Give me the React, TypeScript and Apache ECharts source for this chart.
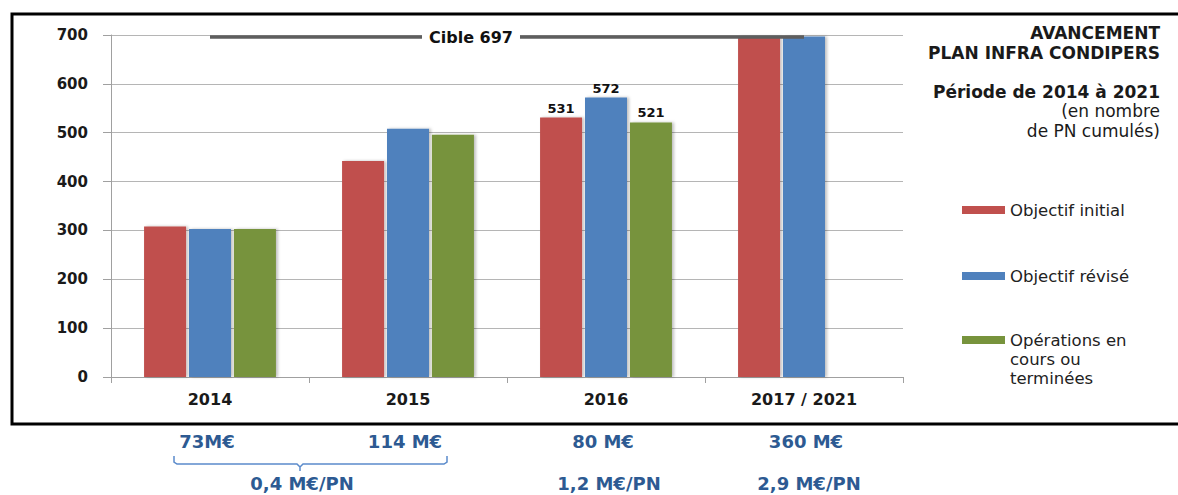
import React, { useEffect, useRef } from "react";
import * as echarts from "echarts";

const categories = ["2014", "2015", "2016", "2017 / 2021"];
const objectifInitial = [308, 442, 531, 697];
const objectifRevise = [303, 508, 572, 697];
const operations: (number | null)[] = [303, 496, 521, null];
const labelledIndex = 2;
const cible = 697;
const yTicks = { min: 0, max: 700, interval: 100 };
const seriesNames = ["Objectif initial", "Objectif révisé", "Opérations en cours ou terminées"];
const colors = ["#C0504D", "#4F81BD", "#77933C"];
const costLabels = ["73M€", "114 M€", "80 M€", "360 M€"];
const perPnLabels = ["0,4 M€/PN", "1,2 M€/PN", "2,9 M€/PN"];
const titleLines = ["AVANCEMENT", "PLAN INFRA CONDIPERS", "Période de 2014 à 2021", "(en nombre", "de PN cumulés)"];

const AXIS_FONT = "'DejaVu Sans', Verdana, sans-serif";
const BLUE_TXT = "#2D5A92";

function toData(vals: (number | null)[]) {
  return vals.map((v, i) =>
    i === labelledIndex
      ? {
          value: v,
          label: {
            show: true,
            position: "top",
            distance: 3,
            fontFamily: AXIS_FONT,
            fontWeight: "bold",
            fontSize: 13,
            color: "#111",
          },
        }
      : v
  );
}

export default function App() {
  const ref = useRef<HTMLDivElement>(null);
  useEffect(() => {
    document.body.style.margin = "0";
    const chart = echarts.init(ref.current!, undefined, { renderer: "svg" });
    const barCommon = {
      type: "bar",
      barWidth: 42,
      barGap: "7%",
      itemStyle: {
        shadowColor: "rgba(0,0,0,0.25)",
        shadowBlur: 3,
        shadowOffsetX: 2,
      },
    };
    const legendCommon = {
      orient: "vertical",
      left: 962,
      padding: 0,
      itemWidth: 43,
      itemHeight: 8,
      icon: "rect",
      selectedMode: false,
      textStyle: { fontFamily: AXIS_FONT, fontSize: 16.5, color: "#222", lineHeight: 19 },
    };
    const titleRich = {
      t: { fontFamily: AXIS_FONT, fontWeight: "bold", fontSize: 17, lineHeight: 19.5, align: "right", fill: "#1a1a1a" },
      n: { fontFamily: AXIS_FONT, fontWeight: "normal", fontSize: 17, lineHeight: 19.5, align: "right", fill: "#1a1a1a" },
      p: { fontFamily: AXIS_FONT, fontWeight: "bold", fontSize: 17, lineHeight: 19.5, align: "right", fill: "#1a1a1a" },
      g: { fontSize: 10, lineHeight: 19.5 },
    };
    const titleText = [
      `{t|${titleLines[0]}}`,
      `{t|${titleLines[1]}}`,
      `{g| }`,
      `{p|${titleLines[2]}}`,
      `{n|${titleLines[3]}}`,
      `{n|${titleLines[4]}}`,
    ].join("\n");
    chart.setOption({
      animation: false,
      backgroundColor: "#fff",
      grid: { left: 111, right: 275, top: 35, bottom: 118 },
      legend: [
        { ...legendCommon, top: 200.5, data: [seriesNames[0]] },
        { ...legendCommon, top: 266.5, data: [seriesNames[1]] },
        {
          ...legendCommon,
          top: 292.5,
          data: [seriesNames[2]],
          formatter: () => "\n\nOpérations en\ncours ou\nterminées",
        },
      ],
      xAxis: {
        type: "category",
        data: categories,
        axisLine: { lineStyle: { color: "#A0A0A0", width: 1 } },
        axisTick: { show: true, length: 6, lineStyle: { color: "#A0A0A0" } },
        axisLabel: {
          fontFamily: AXIS_FONT,
          fontWeight: "bold",
          fontSize: 16,
          color: "#1a1a1a",
          margin: 14,
        },
      },
      yAxis: {
        type: "value",
        ...yTicks,
        axisLine: { show: true, lineStyle: { color: "#A0A0A0", width: 1 } },
        axisTick: { show: true, length: 8, lineStyle: { color: "#A0A0A0" } },
        splitLine: { lineStyle: { color: "#B5B5B5", width: 1 } },
        axisLabel: {
          fontFamily: AXIS_FONT,
          fontWeight: "bold",
          fontSize: 15,
          color: "#1a1a1a",
          margin: 23,
        },
      },
      series: [
        {
          ...barCommon,
          name: seriesNames[0],
          data: toData(objectifInitial),
          itemStyle: { ...barCommon.itemStyle, color: colors[0] },
        },
        {
          ...barCommon,
          name: seriesNames[1],
          data: toData(objectifRevise),
          itemStyle: { ...barCommon.itemStyle, color: colors[1] },
          markLine: {
            silent: true,
            z: 10,
            symbol: ["none", "none"],
            label: { show: false },
            lineStyle: { color: "#5E5E5E", width: 3.5, type: "solid" },
            data: [[{ coord: [0, cible] }, { coord: [3, cible] }]],
          },
        },
        {
          ...barCommon,
          name: seriesNames[2],
          data: toData(operations),
          itemStyle: { ...barCommon.itemStyle, color: colors[2] },
        },
      ],
      graphic: [
        {
          type: "rect",
          shape: { x: 12, y: 14, width: 1180, height: 410 },
          style: { fill: "none", stroke: "#000", lineWidth: 3 },
          z: 100,
        },
        {
          type: "text",
          x: 471,
          y: 37,
          z: 100,
          style: {
            text: "Cible " + cible,
            align: "center",
            verticalAlign: "middle",
            font: `bold 16px ${AXIS_FONT}`,
            fill: "#111",
            backgroundColor: "#fff",
            padding: [1, 7],
          },
        },
        {
          type: "text",
          x: 1160,
          y: 23.25,
          z: 100,
          style: {
            text: titleText,
            rich: titleRich,
            align: "right",
            verticalAlign: "top",
            fill: "#1a1a1a",
          },
        },
        ...[
          { t: costLabels[0], x: 207, y: 441 },
          { t: costLabels[1], x: 405, y: 441 },
          { t: costLabels[2], x: 603, y: 441 },
          { t: costLabels[3], x: 806, y: 441 },
          { t: perPnLabels[0], x: 302, y: 483.5 },
          { t: perPnLabels[1], x: 609, y: 483.5 },
          { t: perPnLabels[2], x: 809, y: 483.5 },
        ].map((o) => ({
          type: "text",
          x: o.x,
          y: o.y,
          z: 100,
          style: {
            text: o.t,
            align: "center",
            verticalAlign: "middle",
            font: `bold 18px ${AXIS_FONT}`,
            lineHeight: 18,
            fill: BLUE_TXT,
          },
        })),
        {
          type: "polyline",
          z: 100,
          shape: {
            points: [
              [174, 456],
              [174, 462],
              [177, 464],
              [297, 464],
              [300, 467],
              [300, 471],
              [300, 467],
              [303, 464],
              [444, 464],
              [447, 462],
              [447, 456],
            ],
          },
          style: { stroke: "#5B8BCB", lineWidth: 1.5, fill: "none" },
        },
      ],
    });
    return () => chart.dispose();
  }, []);
  return <div ref={ref} style={{ width: 1178, height: 495 }} />;
}
